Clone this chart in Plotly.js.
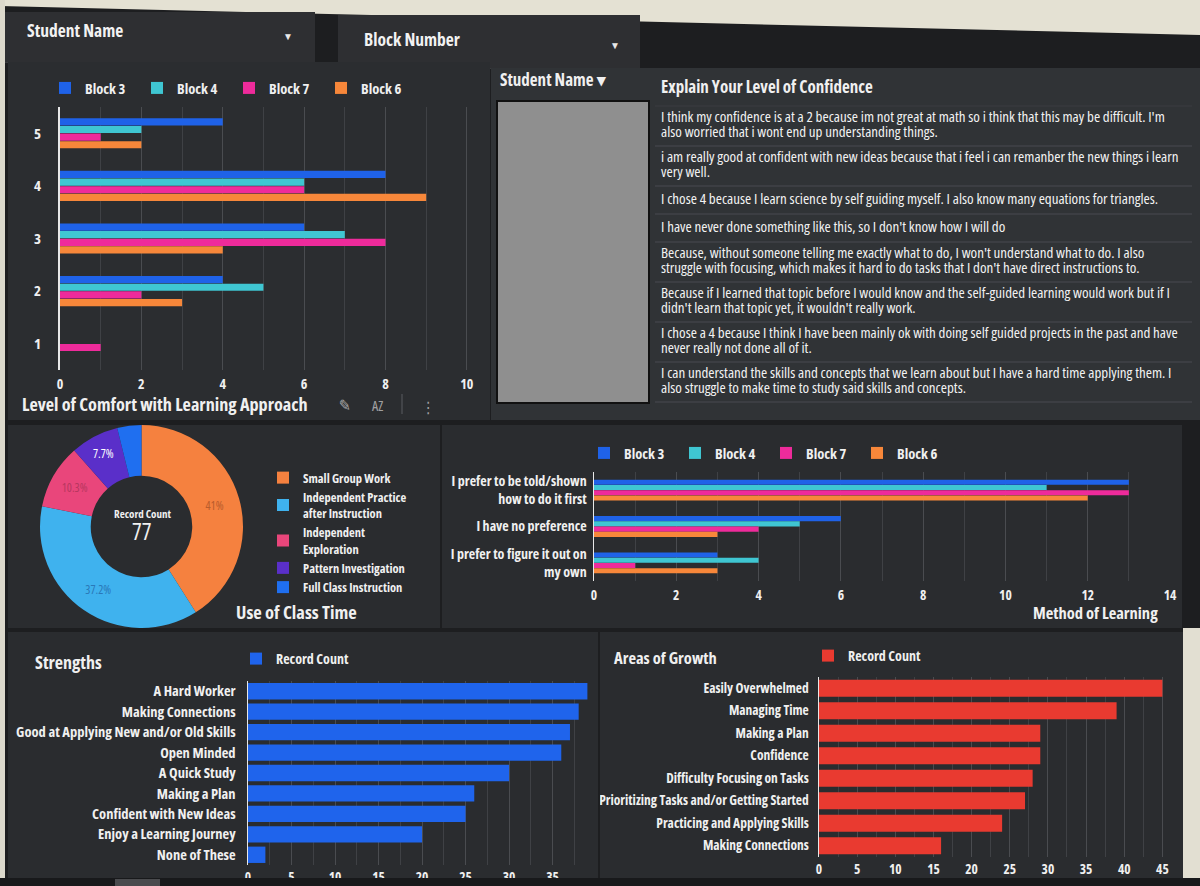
<!DOCTYPE html>
<html>
<head>
<meta charset="utf-8">
<script src="https://cdn.plot.ly/plotly-3.0.1.min.js"></script>
<style>
  html, body { margin:0; padding:0; }
  body { width:1200px; height:886px; overflow:hidden; position:relative; background:#1d1e20;
         font-family:'Open Sans',sans-serif; font-stretch:condensed; }
  text { font-stretch: condensed !important; }
  .abs { position:absolute; }
  .panel { position:absolute; z-index:1; }
  .chart { position:absolute; z-index:2; }
  .ftext { position:absolute; z-index:3; color:#f2f2f2; font-weight:bold; font-size:17.5px; font-stretch:condensed; }
  .arrow { position:absolute; z-index:3; color:#e8e8e8; font-size:10px; }
</style>
</head>
<body>
<div class="abs" style="left:0;top:0;width:1200px;height:40px;background:#e4e1d3;clip-path:polygon(0 0,100% 0,100% 35px,0 6px);z-index:0"></div>
<div class="abs" style="left:0;top:0;width:5px;height:886px;background:#dcd9cc;z-index:4"></div>
<div class="abs" style="left:1183px;top:628px;width:17px;height:250px;background:#e2dfd2;z-index:4"></div>
<div class="abs" style="left:0;top:878px;width:1200px;height:8px;background:#18191b;z-index:4"></div>
<div class="abs" style="left:115px;top:879px;width:45px;height:7px;background:#4a4b4e;z-index:5"></div>

<div class="panel" style="left:5px;top:12px;width:310px;height:50px;background:#2e2f32;border-bottom:1px solid #3a3b3e"></div>
<div class="panel" style="left:338px;top:15px;width:302px;height:53px;background:#2e2f32;border-bottom:1px solid #3a3b3e"></div>
<div class="ftext" style="left:27px;top:18px;">Student Name</div>
<div class="arrow" style="left:283px;top:29px;">&#9660;</div>
<div class="ftext" style="left:364px;top:27px;">Block Number</div>
<div class="arrow" style="left:610px;top:38px;">&#9660;</div>

<div class="panel" style="left:8px;top:62px;width:482px;height:358px;background:#2b2d30"></div>
<div class="panel" style="left:491px;top:68px;width:709px;height:352px;background:#303336"></div>
<div class="panel" style="left:8px;top:425px;width:432px;height:203px;background:#2a2c2f"></div>
<div class="panel" style="left:442px;top:425px;width:740px;height:203px;background:#2a2c2f"></div>
<div class="panel" style="left:8px;top:632px;width:590px;height:254px;background:#2a2c2f"></div>
<div class="panel" style="left:600px;top:632px;width:583px;height:254px;background:#2a2c2f"></div>

<div id="comfort" class="chart" style="left:8px;top:62px;width:482px;height:358px"></div>
<div id="table" class="chart" style="left:490px;top:68px;width:710px;height:352px"></div>
<div id="donut" class="chart" style="left:8px;top:425px;width:432px;height:203px"></div>
<div id="method" class="chart" style="left:442px;top:425px;width:740px;height:203px"></div>
<div id="strengths" class="chart" style="left:8px;top:632px;width:590px;height:254px"></div>
<div id="growth" class="chart" style="left:600px;top:632px;width:582px;height:254px"></div>

<div class="abs" style="left:496px;top:100px;width:150px;height:300px;background:#8f8f8f;border:2px solid #111;z-index:5"></div>

<script>
// ---------------- DATA ----------------
const blockNames = ['Block 3', 'Block 4', 'Block 7', 'Block 6'];

const comfortLevels = ['5', '4', '3', '2', '1'];
const comfortBlock3 = [4, 8, 6, 4, 0];
const comfortBlock4 = [2, 6, 7, 5, 0];
const comfortBlock7 = [1, 6, 8, 2, 1];
const comfortBlock6 = [2, 9, 4, 3, 0];

const methodCategories = ['I prefer to be told/shown<br>how to do it first', 'I have no preference', 'I prefer to figure it out on<br>my own'];
const methodBlock3 = [13, 6, 3];
const methodBlock4 = [11, 5, 4];
const methodBlock7 = [13, 4, 1];
const methodBlock6 = [12, 3, 3];

const classTimeLabels = ['Small Group Work', 'Independent Practice<br>after Instruction', 'Independent<br>Exploration', 'Pattern Investigation', 'Full Class Instruction'];
const classTimeValues = [32, 29, 8, 6, 3];
const recordCount = 77;

const strengthLabels = ['A Hard Worker', 'Making Connections', 'Good at Applying New and/or Old Skills', 'Open Minded', 'A Quick Study', 'Making a Plan', 'Confident with New Ideas', 'Enjoy a Learning Journey', 'None of These'];
const strengthCounts = [39, 38, 37, 36, 30, 26, 25, 20, 2];

const growthLabels = ['Easily Overwhelmed', 'Managing Time', 'Making a Plan', 'Confidence', 'Difficulty Focusing on Tasks', 'Prioritizing Tasks and/or Getting Started', 'Practicing and Applying Skills', 'Making Connections'];
const growthCounts = [45, 39, 29, 29, 28, 27, 24, 16];

const tableHeaders = ['Student Name ▾', 'Explain Your Level of Confidence'];
const explanations = [
  "I think my confidence is at a 2 because im not great at math so i think that this may be difficult. I'm<br>also worried that i wont end up understanding things.",
  "i am really good at confident with new ideas because that i feel i can remanber the new things i learn<br>very well.",
  "I chose 4 because I learn science by self guiding myself. I also know many equations for triangles.",
  "I have never done something like this, so I don't know how I will do",
  "Because, without someone telling me exactly what to do, I won't understand what to do. I also<br>struggle with focusing, which makes it hard to do tasks that I don't have direct instructions to.",
  "Because if I learned that topic before I would know and the self-guided learning would work but if I<br>didn't learn that topic yet, it wouldn't really work.",
  "I chose a 4 because I think I have been mainly ok with doing self guided projects in the past and have<br>never really not done all of it.",
  "I can understand the skills and concepts that we learn about but I have a hard time applying them. I<br>also struggle to make time to study said skills and concepts."
];

// ---------------- STYLE ----------------
const FAM = "'Open Sans',sans-serif";
const WHITE = '#f0f0f0';
const GRID = '#4a4c50';
const MINOR = '#3f4145';
const blockColors = ['#1f62e8', '#3fc6d2', '#ee2b9b', '#f7873a'];
const config = { staticPlot: true, displayModeBar: false };
const bold = (size, color) => ({ family: FAM, size: size, color: color || WHITE, weight: 'bold' });

function P(g, x, y) {
  return { x: (x - g.l) / (g.w - g.l - g.r), y: (g.h - g.b - y) / (g.h - g.t - g.b) };
}
function ann(g, x, y, text, font, opts) {
  const p = P(g, x, y);
  return Object.assign({ xref: 'paper', yref: 'paper', x: p.x, y: p.y, text: text, showarrow: false,
    xanchor: 'left', yanchor: 'middle', font: font }, opts || {});
}
function baseLayout(g) {
  return { width: g.w, height: g.h, margin: { l: g.l, r: g.r, t: g.t, b: g.b, pad: 0, autoexpand: false },
    paper_bgcolor: 'rgba(0,0,0,0)', plot_bgcolor: 'rgba(0,0,0,0)',
    font: { family: FAM, color: WHITE } };
}
function hLegend(g, x, y, size, entry) {
  const p = P(g, x, y);
  const L = { orientation: 'h', x: p.x, y: p.y, xanchor: 'left', yanchor: 'top', itemwidth: 30,
    font: bold(size), bgcolor: 'rgba(0,0,0,0)' };
  if (entry) { L.entrywidth = entry; L.entrywidthmode = 'pixels'; }
  return L;
}

// ---------------- COMFORT CHART ----------------
(function () {
  const g = { w: 482, h: 358, l: 52, r: 15, t: 45, b: 50 };
  const series = [comfortBlock3, comfortBlock4, comfortBlock7, comfortBlock6];
  const traces = series.map((vals, i) => ({
    type: 'bar', orientation: 'h', name: blockNames[i], y: comfortLevels, x: vals,
    marker: { color: blockColors[i] }
  }));
  const lay = baseLayout(g);
  Object.assign(lay, {
    barmode: 'group', bargap: 0.42, bargroupgap: 0.06,
    xaxis: { range: [0, 10.2], dtick: 2, gridcolor: GRID, zeroline: false, showline: false,
      minor: { dtick: 1, showgrid: true, gridcolor: MINOR }, tickfont: bold(14), ticklabelstandoff: 4 },
    yaxis: { type: 'category', categoryorder: 'array', categoryarray: comfortLevels, autorange: 'reversed',
      showline: true, linecolor: '#e8e8e8', linewidth: 2, showgrid: false, ticklabelstandoff: 14, tickfont: bold(15) },
    showlegend: true,
    legend: hLegend(g, 37, 10, 14.5, 47),
    annotations: [
      ann(g, 12, 342, 'Level of Comfort with Learning Approach', bold(18.2)),
      ann(g, 337, 343, '✎', { family: 'DejaVu Sans', size: 16, color: '#a8a8a8' }, { xanchor: 'center' }),
      ann(g, 369, 343, 'AZ', { family: FAM, size: 14, color: '#a0a0a0' }, { xanchor: 'center' }),
      ann(g, 420, 345, '⋮', { family: 'DejaVu Sans', size: 16, color: '#a0a0a0' }, { xanchor: 'center' })
    ],
    shapes: [{ type: 'line', xref: 'paper', yref: 'paper', x0: P(g, 394, 0).x, x1: P(g, 394, 0).x,
      y0: P(g, 0, 332).y, y1: P(g, 0, 352).y, line: { color: '#5a5c60', width: 1 } }]
  });
  Plotly.newPlot('comfort', traces, lay, config);
})();

// ---------------- TABLE (cells placed on hidden pixel axes) ----------------
(function () {
  const W = 710, H = 352;
  const colX = [10, 171];
  const lineStep = 15;
  const xs = [], ys = [], txt = [], shapes = [];
  let top = 38;
  explanations.forEach(s => {
    const lines = s.split('<br>');
    const h = 16 + 12 * lines.length;
    lines.forEach((ln, i) => {
      xs.push(colX[1]);
      ys.push(top + h / 2 + (i - (lines.length - 1) / 2) * lineStep);
      txt.push(ln);
    });
    shapes.push({ type: 'line', xref: 'x', yref: 'y', x0: 165, x1: 702, y0: top + h, y1: top + h,
      line: { color: '#484b50', width: 1 } });
    top += h;
  });
  shapes.unshift({ type: 'line', xref: 'x', yref: 'y', x0: 165, x1: 702, y0: 38, y1: 38, line: { color: '#3a3d41', width: 1 } });
  const cells = { type: 'scatter', mode: 'text', x: xs, y: ys, text: txt, textposition: 'middle right',
    textfont: { family: FAM, size: 15, color: '#f2f2f2' }, hoverinfo: 'skip' };
  const header = { type: 'scatter', mode: 'text', x: colX, y: [14, 21], text: tableHeaders, textposition: 'middle right',
    textfont: bold(17), hoverinfo: 'skip' };
  const lay = { width: W, height: H, margin: { l: 0, r: 0, t: 0, b: 0, autoexpand: false },
    paper_bgcolor: 'rgba(0,0,0,0)', plot_bgcolor: 'rgba(0,0,0,0)', showlegend: false,
    xaxis: { range: [0, W], visible: false }, yaxis: { range: [H, 0], visible: false }, shapes: shapes };
  Plotly.newPlot('table', [cells, header], lay, config);
})();

// ---------------- DONUT ----------------
(function () {
  const g = { w: 432, h: 203, l: 0, r: 0, t: 0, b: 0 };
  const total = classTimeValues.reduce((a, b) => a + b, 0);
  const labels = classTimeValues.map(v => {
    const p = v / total * 100;
    return p < 5 ? '' : p.toFixed(1).replace(/\.0$/, '') + '%';
  });
  const trace = {
    type: 'pie', labels: classTimeLabels, values: classTimeValues, hole: 0.5,
    sort: false, direction: 'clockwise', rotation: 0,
    domain: { x: [32 / 432, 235 / 432], y: [0, 1] },
    marker: { colors: ['#f5813f', '#3fb2ee', '#e9467b', '#5a2fc9', '#1f6ff0'], line: { width: 0 } },
    text: labels, texttemplate: '%{text}', textposition: 'inside', insidetextorientation: 'horizontal',
    textfont: { family: FAM, size: 12, color: ['#b85c2c', '#2a78b8', '#b7375f', '#ffffff', '#ffffff'] }
  };
  const lay = baseLayout(g);
  Object.assign(lay, {
    showlegend: true,
    legend: { orientation: 'v', x: 255 / 432, y: 1 - 38 / 203, xanchor: 'left', yanchor: 'top',
      font: bold(12.5), bgcolor: 'rgba(0,0,0,0)' },
    annotations: [
      ann(g, 134, 88, 'Record Count', bold(11), { xanchor: 'center' }),
      ann(g, 134, 106, String(recordCount), { family: FAM, size: 23, color: WHITE }, { xanchor: 'center' }),
      ann(g, 226, 186, 'Use of Class Time', bold(18.5))
    ]
  });
  Plotly.newPlot('donut', [trace], lay, config);
})();

// ---------------- METHOD OF LEARNING ----------------
(function () {
  const g = { w: 740, h: 203, l: 152, r: 12, t: 47, b: 47 };
  const series = [methodBlock3, methodBlock4, methodBlock7, methodBlock6];
  const traces = series.map((vals, i) => ({
    type: 'bar', orientation: 'h', name: blockNames[i], y: methodCategories, x: vals,
    marker: { color: blockColors[i] }
  }));
  const lay = baseLayout(g);
  Object.assign(lay, {
    barmode: 'group', bargap: 0.42, bargroupgap: 0.04,
    xaxis: { range: [0, 14], dtick: 2, gridcolor: GRID, zeroline: false, showline: false,
      minor: { dtick: 1, showgrid: true, gridcolor: MINOR }, tickfont: bold(13.5), ticklabelstandoff: 4 },
    yaxis: { type: 'category', categoryorder: 'array', categoryarray: methodCategories, autorange: 'reversed',
      showline: true, linecolor: '#e8e8e8', linewidth: 1.5, showgrid: false, ticklabelstandoff: 3, tickfont: bold(14) },
    showlegend: true,
    legend: hLegend(g, 142, 12, 14.5, 46),
    annotations: [ann(g, 718, 187, 'Method of Learning', bold(16.5), { xanchor: 'right' })]
  });
  Plotly.newPlot('method', traces, lay, config);
})();

// ---------------- STRENGTHS ----------------
(function () {
  const g = { w: 590, h: 254, l: 240, r: 8, t: 49, b: 21 };
  const trace = { type: 'bar', orientation: 'h', name: 'Record Count', y: strengthLabels, x: strengthCounts,
    marker: { color: '#1f64ec' } };
  const lay = baseLayout(g);
  Object.assign(lay, {
    bargap: 0.2,
    xaxis: { range: [0, 39.3], dtick: 5, gridcolor: GRID, zeroline: false, showline: false,
      minor: { dtick: 2.5, showgrid: true, gridcolor: MINOR }, tickfont: bold(13.5), ticklabelstandoff: 2 },
    yaxis: { type: 'category', categoryorder: 'array', categoryarray: strengthLabels, autorange: 'reversed',
      showline: true, linecolor: '#e8e8e8', linewidth: 1.5, showgrid: false, ticklabelstandoff: 8, tickfont: bold(14.5) },
    showlegend: true,
    legend: hLegend(g, 228, 11, 14),
    annotations: [ann(g, 25, 30, 'Strengths', bold(18))]
  });
  Plotly.newPlot('strengths', [trace], lay, config);
})();

// ---------------- AREAS OF GROWTH ----------------
(function () {
  const g = { w: 582, h: 254, l: 219, r: 12, t: 45, b: 29 };
  const trace = { type: 'bar', orientation: 'h', name: 'Record Count', y: growthLabels, x: growthCounts,
    marker: { color: '#e93a30' } };
  const lay = baseLayout(g);
  Object.assign(lay, {
    bargap: 0.24,
    xaxis: { range: [0, 46], dtick: 5, gridcolor: GRID, zeroline: false, showline: false,
      minor: { dtick: 2.5, showgrid: true, gridcolor: MINOR }, tickfont: bold(13.5), ticklabelstandoff: 2 },
    yaxis: { type: 'category', categoryorder: 'array', categoryarray: growthLabels, autorange: 'reversed',
      showline: true, linecolor: '#e8e8e8', linewidth: 1.5, showgrid: false, ticklabelstandoff: 6, tickfont: bold(13.5) },
    showlegend: true,
    legend: hLegend(g, 208, 8, 14),
    annotations: [ann(g, 12, 26, 'Areas of Growth', bold(16.5))]
  });
  Plotly.newPlot('growth', [trace], lay, config);
})();
</script>
</body>
</html>
